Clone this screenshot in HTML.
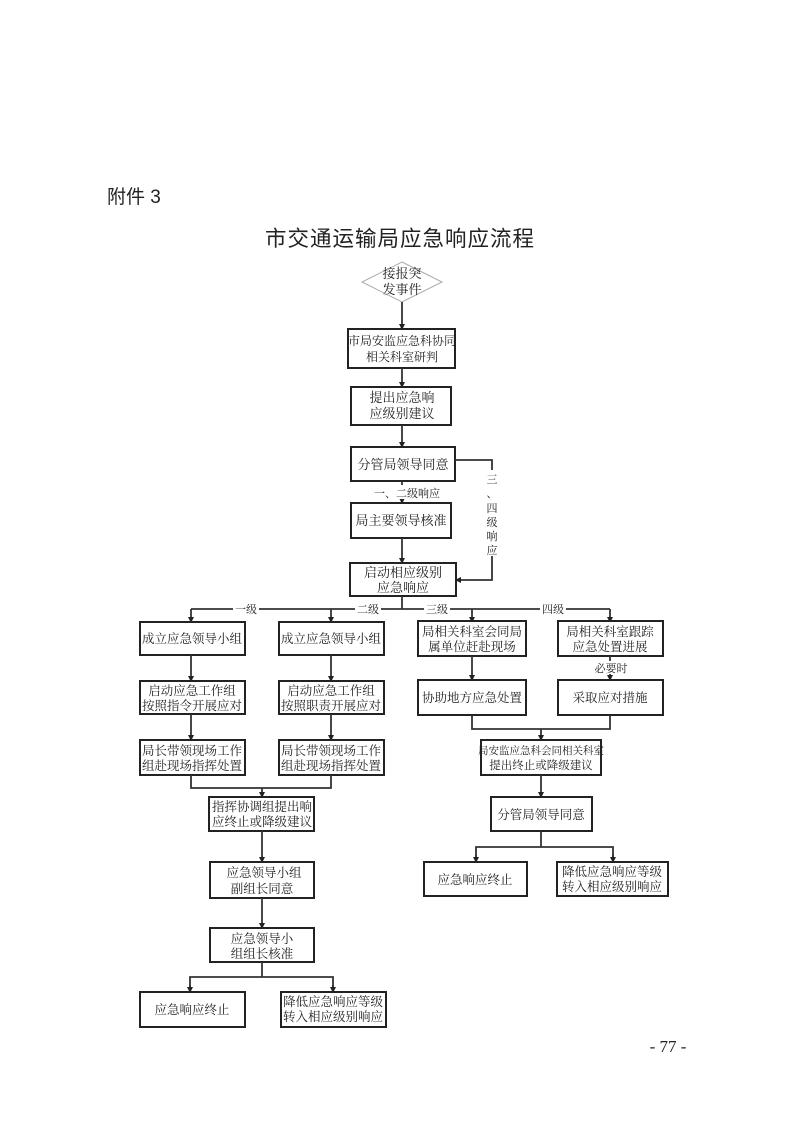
<!DOCTYPE html>
<html><head><meta charset="utf-8"><style>
html,body{margin:0;padding:0;background:#fff;}
svg text{font-family:"Liberation Serif","Noto Serif CJK SC","Noto Sans CJK SC",serif;fill:#222;}
.b{fill:#fff;stroke:#222;stroke-width:2;}
.l{stroke:#333;stroke-width:1.8;fill:none;}
</style></head><body>
<svg width="793" height="1122" viewBox="0 0 793 1122" xmlns="http://www.w3.org/2000/svg">
<defs><marker id="a" markerWidth="6" markerHeight="6" refX="5" refY="3" orient="auto" markerUnits="userSpaceOnUse"><path d="M0,0 L6,3 L0,6z" fill="#222"/></marker></defs>
<text x="107" y="203" font-size="19" style="font-family:'Liberation Sans','Noto Sans CJK SC',sans-serif">附件 3</text>
<text x="400" y="246" font-size="21.5" text-anchor="middle" style="font-family:'Liberation Sans','Noto Sans CJK SC',sans-serif;letter-spacing:1px">市交通运输局应急响应流程</text>

<g font-size="13" text-anchor="middle">
<polygon points="402,262 442,282 402,302 362,282" fill="#fff" stroke="#aaa" stroke-width="1"/>
<text x="402" y="278">接报突</text><text x="402" y="294">发事件</text>
<line class="l" x1="402" y1="302" x2="402" y2="329" marker-end="url(#a)"/>
<rect class="b" x="348" y="329" width="107" height="39"/>
<text x="402" y="345" font-size="12">市局安监应急科协同</text><text x="402" y="361" font-size="12">相关科室研判</text>
<line class="l" x1="402" y1="368" x2="402" y2="387" marker-end="url(#a)"/>
<rect class="b" x="351" y="387" width="100" height="38"/>
<text x="402" y="402">提出应急响</text><text x="402" y="418">应级别建议</text>
<line class="l" x1="402" y1="425" x2="402" y2="447" marker-end="url(#a)"/>
<rect class="b" x="351" y="447" width="104" height="34"/>
<text x="403" y="469">分管局领导同意</text>
<line class="l" x1="402" y1="481" x2="402" y2="503" marker-end="url(#a)"/>
<rect x="372" y="485" width="70" height="14" fill="#fff"/>
<text x="407" y="497" font-size="11">一、二级响应</text>
<rect class="b" x="351" y="503" width="100" height="35"/>
<text x="401" y="525">局主要领导核准</text>
<line class="l" x1="402" y1="538" x2="402" y2="563" marker-end="url(#a)"/>
<polyline class="l" points="455,460 492,460 492,580 456,580" marker-end="url(#a)"/>
<rect x="486" y="470" width="12" height="86" fill="#fff"/>
<text x="492" y="483" font-size="11">三</text><text x="492" y="497" font-size="11">、</text><text x="492" y="512" font-size="11">四</text><text x="492" y="526" font-size="11">级</text><text x="492" y="540" font-size="11">响</text><text x="492" y="554" font-size="11">应</text>
<rect class="b" x="350" y="563" width="106" height="33"/>
<text x="403" y="577">启动相应级别</text><text x="403" y="592">应急响应</text>

<line class="l" x1="402" y1="596" x2="402" y2="609"/>
<line class="l" x1="191" y1="609" x2="610" y2="609"/>
<line class="l" x1="191" y1="609" x2="191" y2="622" marker-end="url(#a)"/>
<line class="l" x1="331" y1="609" x2="331" y2="622" marker-end="url(#a)"/>
<line class="l" x1="472" y1="609" x2="472" y2="622" marker-end="url(#a)"/>
<line class="l" x1="610" y1="609" x2="610" y2="622" marker-end="url(#a)"/>
<g font-size="11"><rect x="233" y="603" width="26" height="12" fill="#fff"/><text x="246" y="613">一级</text>
<rect x="355" y="603" width="26" height="12" fill="#fff"/><text x="368" y="613">二级</text>
<rect x="424" y="603" width="26" height="12" fill="#fff"/><text x="437" y="613">三级</text>
<rect x="540" y="603" width="26" height="12" fill="#fff"/><text x="553" y="613">四级</text></g>

<g font-size="12.5">
<rect class="b" x="140" y="622" width="105" height="33"/><text x="192" y="643">成立应急领导小组</text>
<rect class="b" x="279" y="622" width="105" height="33"/><text x="331" y="643">成立应急领导小组</text>
<rect class="b" x="418" y="621" width="108" height="35"/><text x="472" y="636">局相关科室会同局</text><text x="472" y="651">属单位赶赴现场</text>
<rect class="b" x="558" y="621" width="105" height="35"/><text x="610" y="636">局相关科室跟踪</text><text x="610" y="651">应急处置进展</text>
<line class="l" x1="191" y1="655" x2="191" y2="681" marker-end="url(#a)"/>
<line class="l" x1="331" y1="655" x2="331" y2="681" marker-end="url(#a)"/>
<line class="l" x1="472" y1="656" x2="472" y2="680" marker-end="url(#a)"/>
<line class="l" x1="610" y1="656" x2="610" y2="680" marker-end="url(#a)"/>
<rect x="590" y="661" width="40" height="13" fill="#fff"/><text x="611" y="672" font-size="11">必要时</text>
<rect class="b" x="140" y="681" width="105" height="33"/><text x="192" y="695">启动应急工作组</text><text x="192" y="710">按照指令开展应对</text>
<rect class="b" x="279" y="681" width="105" height="33"/><text x="331" y="695">启动应急工作组</text><text x="331" y="710">按照职责开展应对</text>
<rect class="b" x="418" y="680" width="108" height="35"/><text x="472" y="702">协助地方应急处置</text>
<rect class="b" x="558" y="680" width="105" height="35"/><text x="610" y="702">采取应对措施</text>
<line class="l" x1="191" y1="714" x2="191" y2="740" marker-end="url(#a)"/>
<line class="l" x1="331" y1="714" x2="331" y2="740" marker-end="url(#a)"/>
<polyline class="l" points="472,715 472,729 610,729 610,715"/>
<line class="l" x1="541" y1="729" x2="541" y2="740" marker-end="url(#a)"/>
<rect class="b" x="140" y="740" width="105" height="35"/><text x="192" y="755">局长带领现场工作</text><text x="192" y="770">组赴现场指挥处置</text>
<rect class="b" x="279" y="740" width="105" height="35"/><text x="331" y="755">局长带领现场工作</text><text x="331" y="770">组赴现场指挥处置</text>
<rect class="b" x="481" y="740" width="120" height="35"/><text x="541" y="754" font-size="10.5">局安监应急科会同相关科室</text><text x="541" y="769" font-size="11.5">提出终止或降级建议</text>

<polyline class="l" points="191,775 191,788 331,788 331,775"/>
<line class="l" x1="262" y1="788" x2="262" y2="797" marker-end="url(#a)"/>
<line class="l" x1="541" y1="775" x2="541" y2="797" marker-end="url(#a)"/>
<rect class="b" x="209" y="797" width="105" height="34"/><text x="262" y="811">指挥协调组提出响</text><text x="262" y="826">应终止或降级建议</text>
<rect class="b" x="491" y="797" width="101" height="34"/><text x="541" y="819">分管局领导同意</text>
<line class="l" x1="262" y1="831" x2="262" y2="862" marker-end="url(#a)"/>
<line class="l" x1="541" y1="831" x2="541" y2="847"/>
<polyline class="l" points="476,862 476,847 613,847 613,862"/>
<line class="l" x1="476" y1="855" x2="476" y2="862" marker-end="url(#a)"/>
<line class="l" x1="613" y1="855" x2="613" y2="862" marker-end="url(#a)"/>
<rect class="b" x="210" y="862" width="104" height="36"/><text x="264" y="877">应急领导小组</text><text x="262" y="893">副组长同意</text>
<rect class="b" x="424" y="862" width="103" height="34"/><text x="475" y="884">应急响应终止</text>
<rect class="b" x="557" y="862" width="111" height="34"/><text x="612" y="876">降低应急响应等级</text><text x="612" y="891">转入相应级别响应</text>
<line class="l" x1="262" y1="898" x2="262" y2="928" marker-end="url(#a)"/>
<rect class="b" x="210" y="928" width="104" height="34"/><text x="262" y="943">应急领导小</text><text x="262" y="958">组组长核准</text>
<line class="l" x1="262" y1="962" x2="262" y2="977"/>
<polyline class="l" points="190,992 190,977 333,977 333,992"/>
<line class="l" x1="190" y1="985" x2="190" y2="992" marker-end="url(#a)"/>
<line class="l" x1="333" y1="985" x2="333" y2="992" marker-end="url(#a)"/>
<rect class="b" x="140" y="992" width="105" height="35"/><text x="192" y="1014">应急响应终止</text>
<rect class="b" x="281" y="992" width="105" height="35"/><text x="333" y="1006">降低应急响应等级</text><text x="333" y="1021">转入相应级别响应</text>
</g>
</g>
<text x="668" y="1052" font-size="17" text-anchor="middle">- 77 -</text>
</svg>
</body></html>
